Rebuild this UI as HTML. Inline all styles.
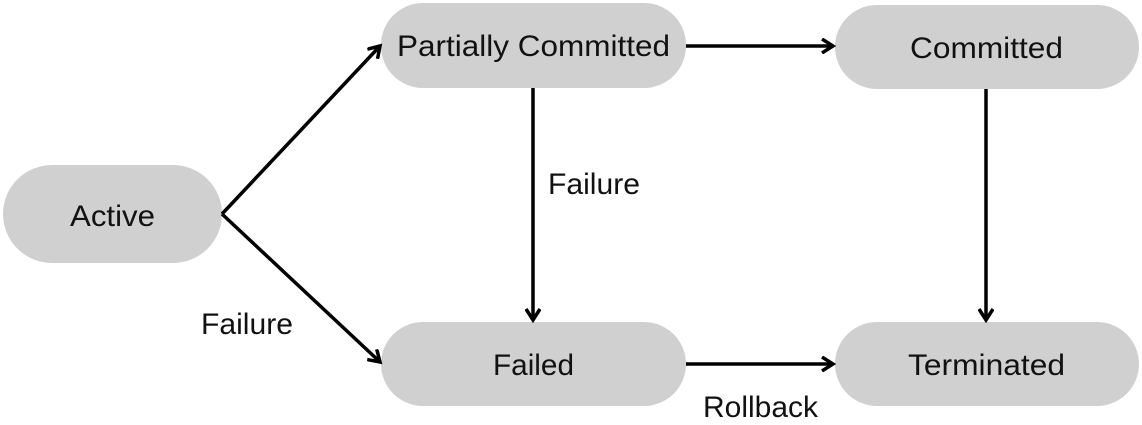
<!DOCTYPE html>
<html><head><meta charset="utf-8"><style>
body{margin:0;background:#fff;width:1142px;height:420px;overflow:hidden;font-family:"Liberation Sans",sans-serif}
</style></head><body>
<svg width="1142" height="420" xmlns="http://www.w3.org/2000/svg" font-family="Liberation Sans, sans-serif" font-size="30" fill="#111">
<defs><marker id="a" markerWidth="16" markerHeight="16" refX="13" refY="8" orient="auto" markerUnits="userSpaceOnUse"><path d="M2,1 L13,8 L2,15" fill="none" stroke="#000" stroke-width="3.5"/></marker></defs>
<g fill="#d0d0d0">
<rect x="3" y="165" width="219" height="98" rx="49"/>
<rect x="381" y="3" width="305" height="85" rx="42"/>
<rect x="835" y="5" width="304" height="84" rx="42"/>
<rect x="381" y="322" width="305" height="84" rx="42"/>
<rect x="835" y="322" width="304" height="84" rx="42"/>
</g>
<g stroke="#000" stroke-width="3.5" fill="none" marker-end="url(#a)">
<line x1="222" y1="214" x2="380" y2="46"/>
<line x1="222" y1="214" x2="380" y2="362"/>
<line x1="533" y1="88" x2="533" y2="320"/>
<line x1="686" y1="46" x2="833" y2="46"/>
<line x1="986" y1="89" x2="986" y2="320"/>
<line x1="686" y1="364" x2="833" y2="364"/>
</g>
<g>
<text x="70" y="226" textLength="85" lengthAdjust="spacingAndGlyphs">Active</text>
<text x="397" y="56" textLength="273" lengthAdjust="spacingAndGlyphs">Partially Committed</text>
<text x="910" y="58" textLength="153" lengthAdjust="spacingAndGlyphs">Committed</text>
<text x="493" y="375" textLength="81" lengthAdjust="spacingAndGlyphs">Failed</text>
<text x="908" y="375" textLength="157" lengthAdjust="spacingAndGlyphs">Terminated</text>
<text x="548" y="194" textLength="92" lengthAdjust="spacingAndGlyphs">Failure</text>
<text x="201" y="334" textLength="92" lengthAdjust="spacingAndGlyphs">Failure</text>
<text x="703" y="417" textLength="115" lengthAdjust="spacingAndGlyphs">Rollback</text>
</g>
</svg>
</body></html>
